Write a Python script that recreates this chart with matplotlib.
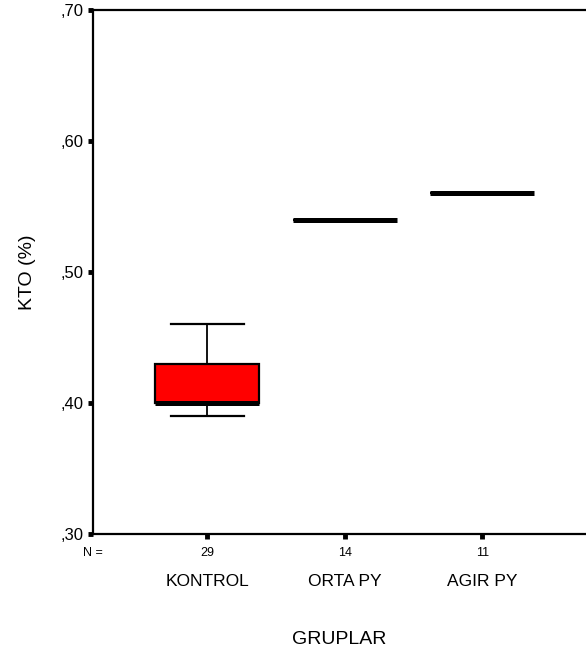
import matplotlib.pyplot as plt
import matplotlib.transforms as mtransforms
from matplotlib.ticker import FuncFormatter, MultipleLocator

plt.rcParams['font.family'] = ['Liberation Sans', 'DejaVu Sans']

# data
groups = ['KONTROL', 'ORTA PY', 'AGIR PY']
counts = [29, 14, 11]
whislo = [0.39, 0.54, 0.56]
q1     = [0.40, 0.54, 0.56]
med    = [0.40, 0.54, 0.56]
q3     = [0.43, 0.54, 0.56]
whishi = [0.46, 0.54, 0.56]

stats = []
for i, g in enumerate(groups):
    stats.append({'label': g, 'whislo': whislo[i], 'q1': q1[i], 'med': med[i],
                  'q3': q3[i], 'whishi': whishi[i], 'fliers': []})

fig = plt.figure(figsize=(5.86, 6.63), dpi=100)
ax = fig.add_axes([93/586, 129/663, 493/586, 524/663])

pos = list(range(len(groups)))
ax.bxp(stats, positions=pos, widths=0.756, capwidths=0.53, patch_artist=True,
       boxprops=dict(facecolor='#ff0000', edgecolor='black', linewidth=1.6),
       medianprops=dict(color='black', linewidth=3.6, solid_capstyle='butt'),
       whiskerprops=dict(color='black', linewidth=1.3),
       capprops=dict(color='black', linewidth=1.6))

ax.set_xlim(-0.83, 2.755)
ax.set_ylim(0.30, 0.70)
ax.yaxis.set_major_locator(MultipleLocator(0.10))
ax.yaxis.set_major_formatter(FuncFormatter(lambda v, p: (',%02d' % round(v * 100))))
ax.set_xticks(pos)
ax.set_xticklabels([])

for s in ['left', 'bottom', 'top']:
    ax.spines[s].set_linewidth(1.6)
ax.spines['right'].set_visible(False)
ax.tick_params(axis='both', direction='out', length=3.5, width=3.5, labelsize=12, pad=3)
ax.tick_params(axis='x', labelbottom=False)

# N row and group names under the axis
trans = mtransforms.blended_transform_factory(ax.transData, ax.transAxes)
ax.text(-0.83, -0.036, 'N =', transform=trans, ha='center', va='center', fontsize=9)
for i, g in enumerate(groups):
    ax.text(pos[i], -0.036, str(counts[i]), transform=trans, ha='center', va='center', fontsize=9)
    ax.text(pos[i], -0.09, g, transform=trans, ha='center', va='center', fontsize=12.5)

ax.text(0.5, -0.202, 'GRUPLAR', transform=ax.transAxes, ha='center', va='center', fontsize=14)
ax.text(-0.132, 0.5, 'KTO (%)', transform=ax.transAxes, ha='center', va='center',
        rotation=90, fontsize=14)

fig.savefig('out.png', dpi=100)
